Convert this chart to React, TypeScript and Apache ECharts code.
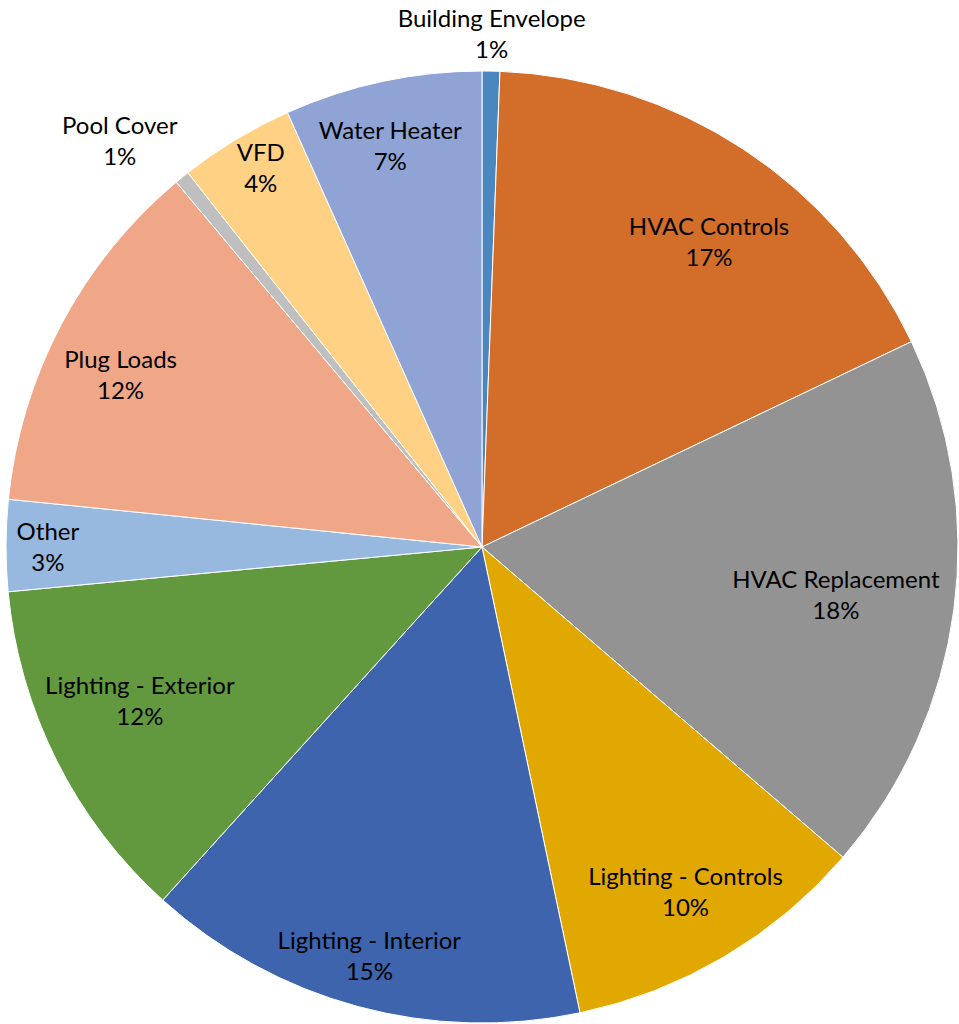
import React, { useEffect, useRef } from "react";
import * as echarts from "echarts";

const categories = [
  "Building Envelope",
  "HVAC Controls",
  "HVAC Replacement",
  "Lighting - Controls",
  "Lighting - Interior",
  "Lighting - Exterior",
  "Other",
  "Plug Loads",
  "Pool Cover",
  "VFD",
  "Water Heater",
];
const values = [0.6, 17.3, 18.4, 10.4, 15.0, 11.8, 3.1, 12.3, 0.5, 3.9, 6.7];
const colors = [
  "#4A87C1",
  "#D26E2A",
  "#939393",
  "#E0A800",
  "#3D64AC",
  "#62993E",
  "#97B9E0",
  "#F0A788",
  "#BFBFBF",
  "#FFD185",
  "#8FA3D4",
];
// label distance from center as fraction of radius, and angular shift (deg, clockwise)
const labelRadius = [1.08, 0.8, 0.75, 0.84, 0.89, 0.787, 0.912, 0.842, 1.145, 0.923, 0.866];
const labelShift = [0, 3.3, 0, 0, 0.3, 2.6, 0, -2.3, -2.6, 0.9, -0.8];

const CX = 482;
const CY = 547;
const R = 476;

export default function App() {
  const ref = useRef<HTMLDivElement>(null);
  useEffect(() => {
    if (!ref.current) return;
    const chart = echarts.init(ref.current, undefined, { renderer: "svg" });
    chart.setOption({
      animation: false,
      backgroundColor: "#ffffff",
      series: [
        {
          type: "pie",
          center: [CX, CY],
          radius: [0, R],
          startAngle: 90,
          clockwise: true,
          avoidLabelOverlap: false,
          itemStyle: { borderColor: "#ffffff", borderWidth: 1 },
          label: {
            show: true,
            position: "inside",
            color: "#000000",
            fontFamily: "Lato, 'Open Sans', sans-serif",
            fontSize: 24,
            lineHeight: 31,
            align: "center",
            formatter: (p: any) => `${p.name}\n${Math.round(p.percent)}%`,
          },
          labelLine: { show: false },
          labelLayout: (params: any) => {
            const i = params.dataIndex;
            const r = params.labelRect;
            const lx = r.x + r.width / 2;
            const ly = r.y + r.height / 2;
            const vx = lx - CX;
            const vy = ly - CY;
            // clockwise angle from top
            const a = Math.atan2(vx, -vy) + (labelShift[i] * Math.PI) / 180;
            const d = labelRadius[i] * R;
            return {
              x: CX + Math.sin(a) * d,
              y: CY - Math.cos(a) * d,
              align: "center",
              verticalAlign: "middle",
            };
          },
          data: categories.map((name, i) => ({
            name,
            value: values[i],
            itemStyle: { color: colors[i] },
          })),
        },
      ],
    });
    return () => chart.dispose();
  }, []);
  return (
    <div
      ref={ref}
      style={{ position: "absolute", left: 0, top: 0, width: 959, height: 1024 }}
    />
  );
}
